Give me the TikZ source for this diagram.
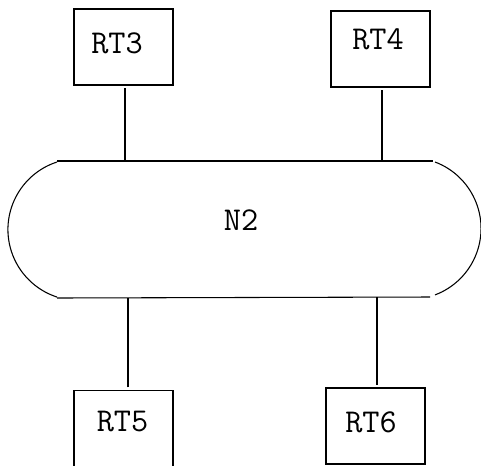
\documentclass[tikz,border=0pt]{standalone}
\usepackage{tikz}
\newcommand\nodenet{N2}
\newcommand\noderc{RT3}
\newcommand\noderd{RT4}
\newcommand\nodere{RT5}
\newcommand\noderf{RT6}
\tikzstyle{mynodestyle} = [inner sep=0pt, text=black, font=\ttfamily\fontsize{25}{29}\selectfont]
\tikzstyle{rt} = [rectangle, draw, minimum width=74.25pt, minimum height=57pt]
\tikzstyle{lbl} = [mynodestyle]
\tikzstyle{link} = [shorten <=2pt]
\tikzset{every picture/.style={line width=0.8pt}}

\begin{document}
\begin{tikzpicture}[x=0.75pt, y=-0.75pt]
\useasboundingbox (0,0) rectangle (481,465);
\node[rt] (r3) at (123.5, 47) {};
\node[rt] (r4) at (380.5, 49) {};
\node[rt] (r5) at (123.5, 428.5) {};
\node[rt] (r6) at (375.5, 426) {};
\node[lbl] (t3) at (117, 43.5) {\noderc};
\node[lbl] (t4) at (378, 39) {\noderd};
\node[lbl] (t5) at (122.5, 422) {\nodere};
\node[lbl] (t6) at (371, 422) {\noderf};
\node[lbl] (n2) at (241, 220.5) {\nodenet};
\coordinate (nw) at (57, 161);
\coordinate (ne) at (433, 161);
\coordinate (sw) at (57, 298);
\coordinate (se) at (430, 297);
\coordinate (a3) at (125, 161);
\coordinate (a4) at (382, 161);
\coordinate (a5) at (128, 298);
\coordinate (a6) at (377, 297);
\draw (nw) -- (ne);
\draw (sw) -- (se);
\draw (57, 162) arc[start angle=108, end angle=252, radius=53.25pt];
\draw (435, 162) arc[start angle=69.4, end angle=-69.4, radius=53.25pt];
\draw [link] (r3.south -| a3) -- (a3);
\draw [link] (r4.south -| a4) -- (a4);
\draw [link] (r5.north -| a5) -- (a5);
\draw [link] (r6.north -| a6) -- (a6);
\end{tikzpicture}
\end{document}
